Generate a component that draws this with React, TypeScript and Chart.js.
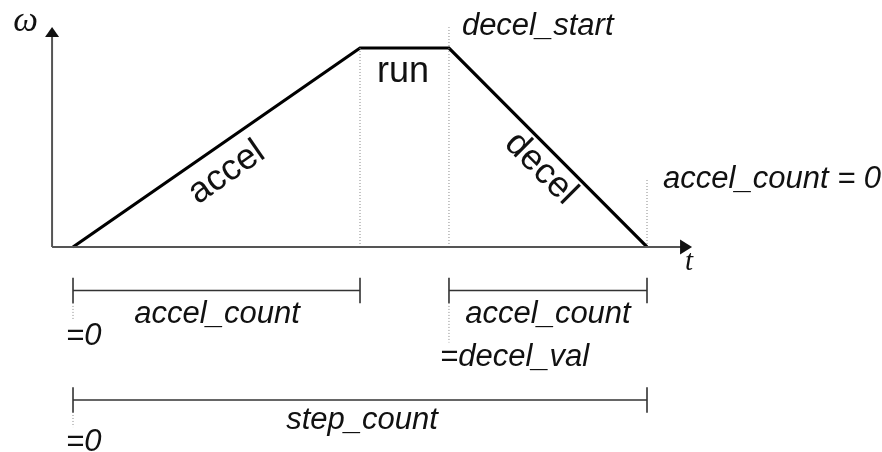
import React, { useEffect, useRef } from "react";
import { Chart, registerables } from "chart.js";

Chart.register(...registerables);

// ---- Data (time t in steps, speed ω in % of max) ----
const profileT = [0, 100, 131, 200];
const profileW = [0, 100, 100, 0];

// axes extents
const axisT = [-7.3, 215];
const axisW = [0, 110];

// dotted marker lines: [t, wFrom, wTo]
const markerT = [100, 131, 200, 0, 131, 0];
const markerFrom = [0, 0, 0, -28.1, -28.1, -82.9];
const markerTo = [100, 110.5, 33.7, -36.2, -48, -90.5];

// dimension lines: [tFrom, tTo, w]
const dimFrom = [0, 131, 0];
const dimTo = [100, 200, 200];
const dimW = [-21.9, -21.9, -76.9];
const dimTick = 6.4;

// text labels
const labelTexts = [
  "ω", "decel_start", "run", "accel", "decel", "accel_count = 0", "t",
  "accel_count", "=0", "accel_count", "=decel_val", "step_count", "=0",
];

// ---- Annotation layout (anchors in data units) ----
type Ann = {
  t: number; w: number; align: CanvasTextAlign; base: CanvasTextBaseline;
  font: string; slopeSeg?: number; perp?: number;
};
const SANS = '"Liberation Sans", Arial, sans-serif';
const SERIF = '"Liberation Serif", "Times New Roman", serif';
const annLayout: Ann[] = [
  { t: -16.5, w: 108.5, align: "center", base: "alphabetic", font: `italic 35px ${SERIF}` },
  { t: 135.5, w: 106.5, align: "left", base: "alphabetic", font: `italic 31px ${SANS}` },
  { t: 115, w: 82.9, align: "center", base: "alphabetic", font: `36px ${SANS}` },
  { t: 48.3, w: 0, align: "center", base: "middle", font: `36px ${SANS}`, slopeSeg: 0, perp: 26.5 },
  { t: 167.9, w: 0, align: "center", base: "middle", font: `36px ${SANS}`, slopeSeg: 2, perp: 20 },
  { t: 205.6, w: 29.6, align: "left", base: "alphabetic", font: `italic 31px ${SANS}` },
  { t: 213.2, w: -11.6, align: "left", base: "alphabetic", font: `italic 29px ${SERIF}` },
  { t: 50.2, w: -38.2, align: "center", base: "alphabetic", font: `italic 31px ${SANS}` },
  { t: -2.4, w: -49.2, align: "left", base: "alphabetic", font: `italic 31px ${SANS}` },
  { t: 165.5, w: -38.2, align: "center", base: "alphabetic", font: `italic 31px ${SANS}` },
  { t: 127.9, w: -59.8, align: "left", base: "alphabetic", font: `italic 31px ${SANS}` },
  { t: 100.7, w: -91.5, align: "center", base: "alphabetic", font: `italic 31px ${SANS}` },
  { t: -2.4, w: -102.5, align: "left", base: "alphabetic", font: `italic 31px ${SANS}` },
];

const X_MIN = -25.44, X_MAX = 281.88;
const Y_MIN = -103.02, Y_MAX = 124.12;

const seg = (x0: number, y0: number, x1: number, y1: number) => [
  { x: x0, y: y0 },
  { x: x1, y: y1 },
];

const diagramPlugin = {
  id: "diagram",
  afterDatasetsDraw(chart: any) {
    const { ctx } = chart;
    const xs = chart.scales.x;
    const ys = chart.scales.y;
    const px = (t: number) => xs.getPixelForValue(t);
    const py = (w: number) => ys.getPixelForValue(w);
    ctx.save();
    // arrowheads
    ctx.fillStyle = "#111";
    const ax = px(axisT[1]);
    const ay = py(0);
    ctx.beginPath();
    ctx.moveTo(ax + 2, ay);
    ctx.lineTo(ax - 10, ay - 7.5);
    ctx.lineTo(ax - 10, ay + 7.5);
    ctx.closePath();
    ctx.fill();
    const bx = px(axisT[0]);
    const by = py(axisW[1]);
    ctx.beginPath();
    ctx.moveTo(bx, by - 1);
    ctx.lineTo(bx - 7, by + 9);
    ctx.lineTo(bx + 7, by + 9);
    ctx.closePath();
    ctx.fill();

    // text
    ctx.fillStyle = "#111";
    annLayout.forEach((a, i) => {
      ctx.font = a.font;
      ctx.textAlign = a.align;
      ctx.textBaseline = a.base;
      if (a.slopeSeg !== undefined) {
        const i0 = a.slopeSeg;
        const x0 = px(profileT[i0]), y0 = py(profileW[i0]);
        const x1 = px(profileT[i0 + 1]), y1 = py(profileW[i0 + 1]);
        const ang = Math.atan2(y1 - y0, x1 - x0);
        const f = (a.t - profileT[i0]) / (profileT[i0 + 1] - profileT[i0]);
        const lx = x0 + (x1 - x0) * f;
        const ly = y0 + (y1 - y0) * f;
        // perpendicular pointing below the line
        const nx = -Math.sin(ang), ny = Math.cos(ang);
        const sgn = ny >= 0 ? 1 : -1;
        ctx.save();
        ctx.translate(lx + nx * sgn * (a.perp || 0), ly + ny * sgn * (a.perp || 0));
        ctx.rotate(ang);
        ctx.fillText(labelTexts[i], 0, 0);
        ctx.restore();
      } else {
        ctx.fillText(labelTexts[i], px(a.t), py(a.w));
      }
    });
    ctx.restore();
  },
};

export default function App() {
  const ref = useRef<HTMLCanvasElement | null>(null);
  useEffect(() => {
    document.body.style.margin = "0";
    if (!ref.current) return;
    const datasets: any[] = [];
    // axes
    datasets.push({
      data: seg(axisT[0], 0, axisT[1] - 0.5, 0),
      borderColor: "#555",
      borderWidth: 2,
    });
    datasets.push({
      data: seg(axisT[0], 0, axisT[0], axisW[1] - 2),
      borderColor: "#555",
      borderWidth: 2,
    });
    // dotted markers
    markerT.forEach((t, i) => {
      datasets.push({
        data: seg(t, markerFrom[i], t, markerTo[i]),
        borderColor: "#888",
        borderWidth: 1,
        borderDash: [1, 2],
      });
    });
    // dimension lines with end ticks
    dimFrom.forEach((t0, i) => {
      const t1 = dimTo[i];
      const w = dimW[i];
      datasets.push({ data: seg(t0, w, t1, w), borderColor: "#333", borderWidth: 1.6 });
      datasets.push({ data: seg(t0, w + dimTick, t0, w - dimTick), borderColor: "#333", borderWidth: 1.6 });
      datasets.push({ data: seg(t1, w + dimTick, t1, w - dimTick), borderColor: "#333", borderWidth: 1.6 });
    });
    // speed profile
    datasets.push({
      data: profileT.map((t, i) => ({ x: t, y: profileW[i] })),
      borderColor: "#000",
      borderWidth: 3.2,
      borderJoinStyle: "miter",
    });
    datasets.forEach((d) => {
      d.showLine = true;
      d.pointRadius = 0;
      d.fill = false;
      d.tension = 0;
    });
    const chart = new Chart(ref.current, {
      type: "scatter",
      data: { datasets },
      options: {
        animation: false,
        responsive: false,
        devicePixelRatio: 1,
        layout: { padding: 0 },
        plugins: { legend: { display: false }, tooltip: { enabled: false } },
        scales: {
          x: { type: "linear", min: X_MIN, max: X_MAX, display: false },
          y: { type: "linear", min: Y_MIN, max: Y_MAX, display: false },
        },
      },
      plugins: [diagramPlugin],
    });
    return () => chart.destroy();
  }, []);
  return (
    <div style={{ width: 882, height: 452, background: "#fff" }}>
      <canvas ref={ref} width={882} height={452} style={{ display: "block" }} />
    </div>
  );
}
